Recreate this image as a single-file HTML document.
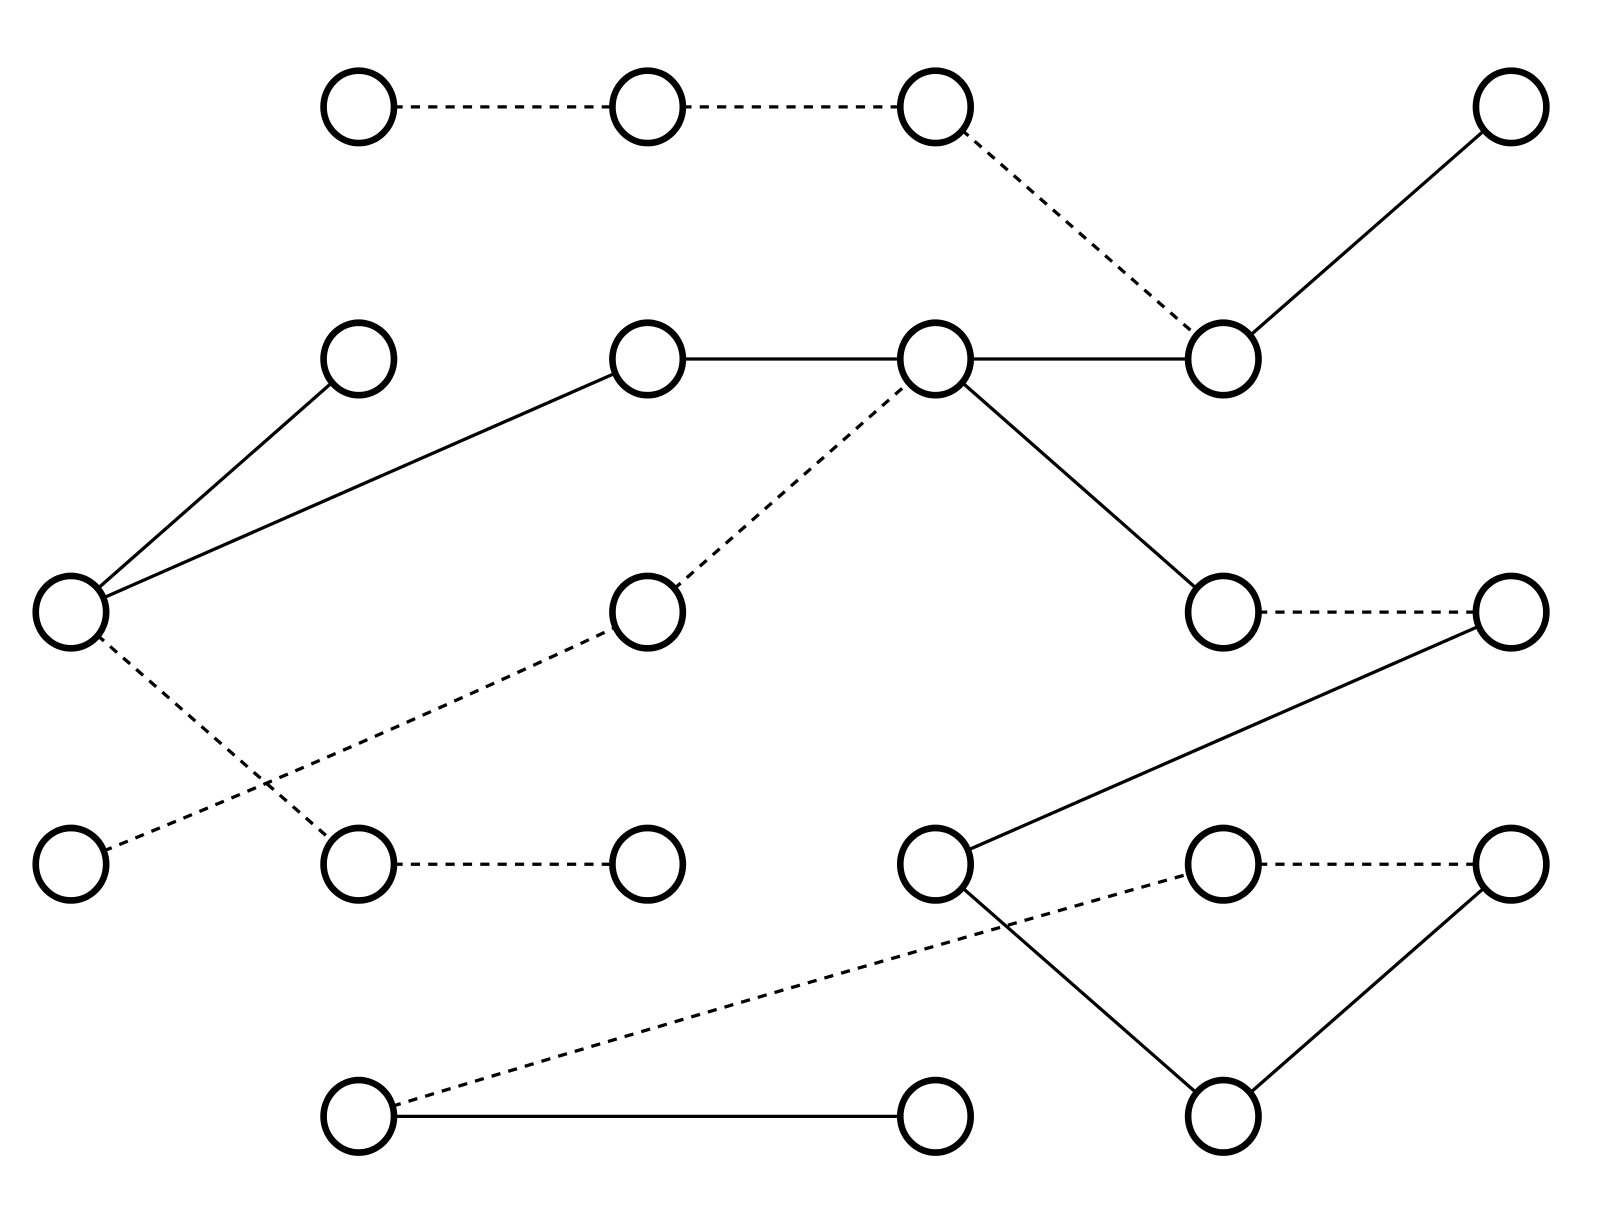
<!DOCTYPE html>
<html><head><style>html,body{margin:0;padding:0;background:#fff}</style></head><body>
<svg width="1600" height="1200" viewBox="0 0 1600 1200" xmlns="http://www.w3.org/2000/svg">
<g transform="translate(-0.5,-0.3) scale(1.0207)">
<g stroke="#000" stroke-width="3.2" fill="none">
<g stroke-dasharray="9,8">
<line x1="352" y1="105" x2="635" y2="105"/>
<line x1="635" y1="105" x2="917" y2="105"/>
<line x1="917" y1="105" x2="1199" y2="352"/>
<line x1="70" y1="600" x2="352" y2="847"/>
<line x1="352" y1="847" x2="635" y2="847"/>
<line x1="635" y1="600" x2="917" y2="352"/>
<path d="M70 847 Q360 730 635 600"/>
<line x1="1199" y1="600" x2="1481" y2="600"/>
<line x1="1199" y1="847" x2="1481" y2="847"/>
<path d="M352 1094 Q760 970 1199 847"/>
</g>
<line x1="1481" y1="105" x2="1199" y2="352"/>
<line x1="70" y1="600" x2="352" y2="352"/>
<line x1="70" y1="600" x2="635" y2="352"/>
<line x1="635" y1="352" x2="1199" y2="352"/>
<line x1="917" y1="352" x2="1199" y2="600"/>
<line x1="1481" y1="600" x2="917" y2="847"/>
<line x1="917" y1="847" x2="1199" y2="1094"/>
<line x1="1199" y1="1094" x2="1481" y2="847"/>
<line x1="352" y1="1094" x2="917" y2="1094"/>
</g>
<g stroke="#000" stroke-width="6.5" fill="#fff">
<ellipse cx="352" cy="105" rx="34.5" ry="35.5"/><ellipse cx="635" cy="105" rx="34.5" ry="35.5"/><ellipse cx="917" cy="105" rx="34.5" ry="35.5"/><ellipse cx="1481" cy="105" rx="34.5" ry="35.5"/>
<ellipse cx="352" cy="352" rx="34.5" ry="35.5"/><ellipse cx="635" cy="352" rx="34.5" ry="35.5"/><ellipse cx="917" cy="352" rx="34.5" ry="35.5"/><ellipse cx="1199" cy="352" rx="34.5" ry="35.5"/>
<ellipse cx="70" cy="600" rx="34.5" ry="35.5"/><ellipse cx="635" cy="600" rx="34.5" ry="35.5"/><ellipse cx="1199" cy="600" rx="34.5" ry="35.5"/><ellipse cx="1481" cy="600" rx="34.5" ry="35.5"/>
<ellipse cx="70" cy="847" rx="34.5" ry="35.5"/><ellipse cx="352" cy="847" rx="34.5" ry="35.5"/><ellipse cx="635" cy="847" rx="34.5" ry="35.5"/><ellipse cx="917" cy="847" rx="34.5" ry="35.5"/><ellipse cx="1199" cy="847" rx="34.5" ry="35.5"/><ellipse cx="1481" cy="847" rx="34.5" ry="35.5"/>
<ellipse cx="352" cy="1094" rx="34.5" ry="35.5"/><ellipse cx="917" cy="1094" rx="34.5" ry="35.5"/><ellipse cx="1199" cy="1094" rx="34.5" ry="35.5"/>
</g>
</g>
</svg>
</body></html>
